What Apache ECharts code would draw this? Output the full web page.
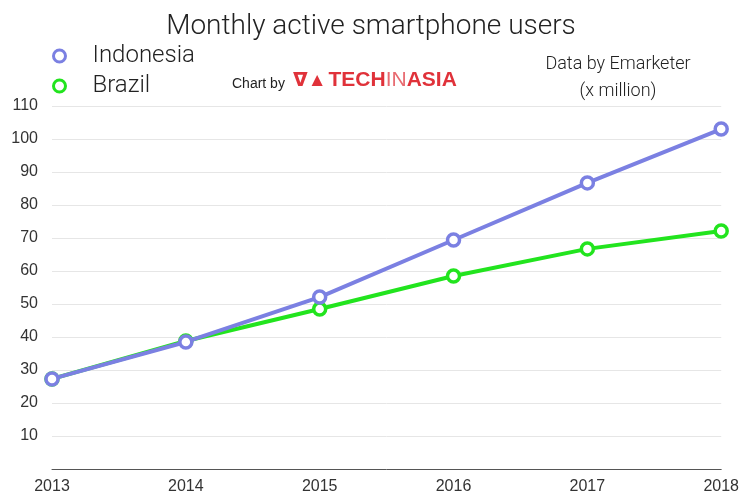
<!DOCTYPE html>
<html>
<head>
<meta charset="utf-8">
<script src="https://cdn.jsdelivr.net/npm/echarts@6/dist/echarts.min.js"></script>
<style>
  html, body { margin: 0; padding: 0; background: #fff; }
  #chart { width: 742px; height: 495px; }
</style>
</head>
<body>
<div id="chart"></div>
<script>
// 数据
const years = ['2013', '2014', '2015', '2016', '2017', '2018']
const indonesia = [27.3, 38.5, 52.1, 69.4, 86.7, 103]
const brazil = [27.3, 38.8, 48.5, 58.5, 66.7, 72.1]

const FONT = '"Liberation Sans", "DejaVu Sans", sans-serif'
const LIGHT = 'Roboto, "Liberation Sans", sans-serif'
const BLUE = '#7b80e2'
const GREEN = '#22e41e'

const chart = echarts.init(document.getElementById('chart'))

const option = {
  animation: false,
  backgroundColor: '#fff',
  title: {
    text: 'Monthly active smartphone users',
    left: 'center',
    top: 8,
    textStyle: { fontFamily: LIGHT, fontSize: 28, fontWeight: 300, color: '#222' }
  },
  legend: {
    data: [
      { name: 'Indonesia', itemStyle: { color: '#fff', borderColor: BLUE, borderWidth: 3 } },
      { name: 'Brazil', itemStyle: { color: '#fff', borderColor: GREEN, borderWidth: 3 } }
    ],
    orient: 'vertical',
    left: 47,
    top: 39,
    itemGap: 6,
    itemWidth: 12,
    itemHeight: 12,
    icon: 'circle',
    textStyle: { fontFamily: LIGHT, fontSize: 24, fontWeight: 300, color: '#222', padding: [0, 0, 0, 22] }
  },
  grid: {
    left: 52,
    right: 19,
    top: 106,
    bottom: 25
  },
  xAxis: {
    type: 'category',
    data: years,
    boundaryGap: false,
    axisLine: { lineStyle: { color: '#555', width: 1 } },
    axisTick: { show: false },
    axisLabel: { fontFamily: FONT, fontSize: 16, color: '#333', margin: 10 }
  },
  yAxis: {
    type: 'value',
    min: 0,
    max: 110,
    interval: 10,
    axisLine: { show: false },
    axisTick: { show: false },
    splitLine: { lineStyle: { color: '#e6e6e6', width: 1 } },
    axisLabel: {
      fontFamily: FONT, fontSize: 16, color: '#333', margin: 14,
      formatter: v => (v === 0 ? '' : v)
    }
  },
  graphic: [
    {
      type: 'text',
      x: 232,
      y: 77,
      style: { text: 'Chart by', font: '14px ' + FONT, fill: '#222' }
    },
    {
      type: 'text',
      x: 293,
      y: 70,
      style: {
        text: '{logo|ᐁ▲}{b|TECH}{t|IN}{b|ASIA}',
        rich: {
          logo: { fontFamily: FONT, fontSize: 19, fontWeight: 'bold', fill: '#e0323a', padding: [0, 2, 0, 0] },
          b: { fontFamily: FONT, fontSize: 21, fontWeight: 'bold', fill: '#e0323a' },
          t: { fontFamily: FONT, fontSize: 21, fontWeight: 'normal', fill: '#e86a70' }
        }
      }
    },
    {
      type: 'text',
      x: 618,
      y: 51,
      style: {
        text: 'Data by Emarketer\n(x million)',
        font: '300 18px ' + LIGHT,
        fill: '#222',
        align: 'center',
        lineHeight: 27
      }
    }
  ],
  series: [
    {
      name: 'Brazil',
      type: 'line',
      data: brazil,
      symbol: 'circle',
      symbolSize: 12,
      lineStyle: { color: GREEN, width: 4 },
      itemStyle: { color: '#fff', borderColor: GREEN, borderWidth: 3.5 },
      z: 2
    },
    {
      name: 'Indonesia',
      type: 'line',
      data: indonesia,
      symbol: 'circle',
      symbolSize: 12,
      lineStyle: { color: BLUE, width: 4 },
      itemStyle: { color: '#fff', borderColor: BLUE, borderWidth: 3.5 },
      z: 3
    }
  ]
}

chart.setOption(option)
</script>
</body>
</html>
